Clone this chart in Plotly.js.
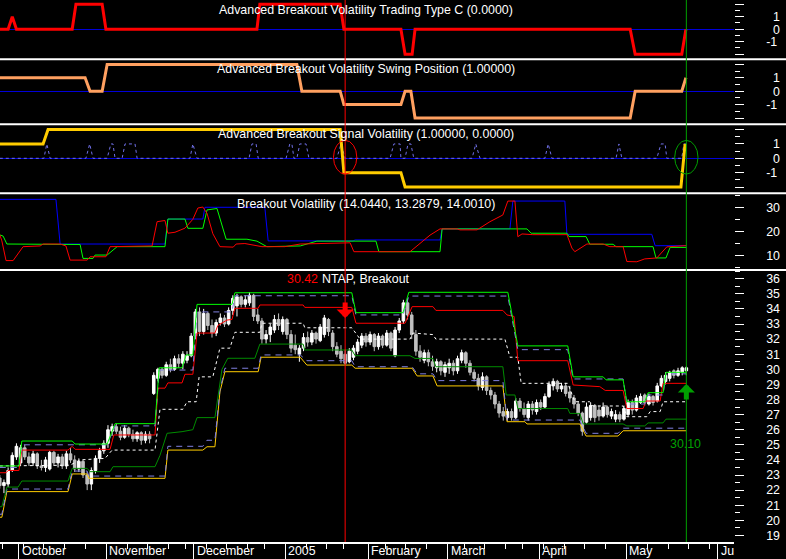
<!DOCTYPE html>
<html><head><meta charset="utf-8">
<script src="https://cdn.plot.ly/plotly-3.0.1.min.js"></script>
<style>html,body{margin:0;padding:0;background:#000;overflow:hidden}#chart{width:786px;height:559px}</style>
</head><body><div id="chart"></div>
<script>
// ---------- price bars (trading-day index starts at -5 = Sep 24, 2004; 0 = Oct 1) ----------
const firstBarIdx = -5;
const opens = [
22.8,22.3,22.4,23.3,24.2,23.8,24.8,24.2,23.8,24.4,
23.6,23.5,23.4,24.5,23.8,24.2,23.6,24.4,24.0,23.4,
23.9,23.0,22.4,23.3,24.1,24.6,25.1,25.9,26.2,25.9,
25.5,26.1,25.7,25.4,25.8,25.3,25.7,28.4,29.4,30.0,
29.6,30.3,30.0,30.7,30.4,30.6,30.9,32.2,33.8,32.5,
33.7,32.9,32.4,33.1,33.4,33.0,33.9,34.2,34.8,34.3,
34.4,34.9,33.6,33.2,32.0,32.3,32.6,33.3,32.5,33.3,
32.3,31.6,31.0,31.4,32.1,31.8,32.4,31.9,32.3,33.3,
32.4,31.5,31.2,31.0,30.5,30.8,31.2,31.6,32.2,31.8,
32.3,31.5,32.2,31.6,32.4,30.9,32.6,33.2,34.4,33.6,
32.3,31.2,30.6,31.1,30.5,30.1,30.5,29.8,30.1,30.4,
29.9,30.6,31.1,30.4,29.8,29.4,28.8,29.5,28.6,28.3,
27.7,27.2,26.8,27.2,26.8,27.9,27.4,26.8,27.7,27.2,
27.8,27.5,28.2,28.9,29.2,28.7,28.9,28.5,28.1,27.7,
27.1,26.5,26.8,27.6,27.3,26.9,27.5,26.9,26.7,27.0,
26.7,27.0,27.8,27.3,27.8,28.3,27.7,28.2,27.9,28.9,
29.2,29.4,29.9,29.6,29.8,29.9];
const highs = [
23.0,22.7,23.5,24.5,25.1,25.0,25.0,24.5,24.6,24.5,
24.0,24.2,24.6,24.6,24.4,24.4,24.6,24.8,24.3,24.1,
24.0,23.2,23.5,24.3,24.8,25.3,26.3,26.4,26.4,26.2,
26.3,26.2,26.0,25.9,25.9,25.9,25.9,29.8,30.1,30.1,
30.5,30.7,30.9,31.0,31.2,31.2,32.4,34.0,34.1,34.0,
33.8,33.3,33.3,33.7,33.6,34.1,34.9,35.0,34.9,34.9,
35.1,35.0,34.0,33.4,32.6,33.0,33.6,33.7,33.5,33.4,
32.6,32.3,31.6,32.4,32.5,32.6,32.5,33.0,33.6,33.4,
32.6,31.8,31.6,31.3,31.4,31.6,32.0,32.4,32.4,32.5,
32.4,32.4,32.3,32.6,32.5,32.8,33.4,34.6,34.7,33.8,
32.6,31.6,31.3,31.3,30.9,30.7,30.6,30.5,30.7,30.6,
30.9,31.3,31.2,30.6,30.0,29.7,29.8,29.6,28.8,28.5,
27.9,27.5,27.4,27.4,28.1,28.1,27.8,27.9,27.9,28.0,
28.0,28.4,29.2,29.4,29.3,29.1,29.1,28.9,28.3,27.9,
27.2,27.8,27.8,27.7,27.6,27.8,27.6,27.4,27.3,27.2,
27.6,28.0,28.0,28.3,28.4,28.4,28.4,28.3,29.1,29.6,
29.8,29.9,30.0,30.1,30.2,30.2];
const lows = [
22.1,21.8,22.2,23.2,24.0,23.6,24.0,23.6,23.6,23.4,
23.3,23.2,23.3,23.6,23.5,23.4,23.4,23.8,23.2,23.2,
22.8,22.0,22.0,23.1,23.8,24.4,24.8,25.6,25.7,25.3,
25.4,25.5,25.2,25.2,25.0,25.1,25.1,28.3,29.2,29.4,
29.5,29.8,29.9,30.1,30.0,30.4,30.8,32.0,32.2,32.3,
32.6,32.1,32.2,32.9,32.8,32.9,33.6,33.5,34.1,34.1,
34.2,33.2,33.0,31.7,31.7,31.8,32.4,32.6,32.3,32.0,
31.1,31.0,30.5,31.2,31.5,31.6,31.7,31.8,32.1,32.2,
31.2,30.8,30.4,30.3,30.4,30.6,31.0,31.4,31.5,31.6,
31.2,31.3,31.4,31.5,31.2,30.8,32.4,33.0,33.3,32.0,
30.9,30.5,30.4,30.2,29.9,29.8,29.6,29.5,29.7,29.6,
29.7,30.4,30.1,29.6,29.2,28.6,28.6,28.3,28.0,27.4,
26.8,26.6,26.6,26.6,26.7,27.2,26.8,26.6,27.0,27.0,
27.3,27.4,28.1,28.6,28.5,28.5,28.2,27.8,27.4,26.9,
25.6,26.4,26.6,26.5,26.6,26.8,26.8,26.7,26.5,26.5,
26.6,26.9,27.0,27.2,27.7,27.6,27.6,27.6,27.8,28.8,
29.0,29.2,29.4,29.5,29.6,29.6];
const closes = [
22.3,22.5,23.3,24.3,24.9,24.8,24.2,23.8,24.4,23.6,
23.5,24.0,24.5,23.8,24.2,23.6,24.4,24.0,23.4,23.9,
23.0,22.4,23.3,24.1,24.6,25.1,26.0,26.2,25.9,25.5,
26.1,25.7,25.4,25.8,25.3,25.7,25.4,29.6,30.0,29.6,
30.3,30.0,30.7,30.4,31.0,30.9,32.2,33.8,32.5,33.7,
32.9,32.4,33.1,33.4,33.0,33.9,34.7,34.8,34.3,34.6,
34.9,33.5,33.2,32.0,32.3,32.8,33.3,32.9,33.3,32.3,
31.4,31.3,31.4,32.1,31.8,32.4,32.0,32.8,33.4,32.5,
31.5,31.0,30.7,30.4,31.2,31.4,31.8,32.2,31.8,32.3,
31.5,32.2,31.6,32.4,31.4,32.6,33.2,34.4,33.6,32.3,
31.2,30.8,31.1,30.5,30.2,30.5,29.9,30.3,30.4,29.9,
30.7,31.1,30.4,29.8,29.4,28.9,29.5,28.6,28.3,27.7,
27.1,26.9,27.2,26.8,27.9,27.4,27.0,27.7,27.3,27.8,
27.5,28.2,29.0,29.2,28.7,28.9,28.4,28.1,27.7,27.1,
25.9,27.5,27.6,26.8,26.9,27.5,27.0,27.2,27.0,26.7,
27.4,27.8,27.3,28.1,28.2,27.8,28.2,27.8,28.9,29.4,
29.6,29.8,29.6,29.9,30.1,30.1];

// ---------- breakout channel lines (bar index, price) ----------
const hiBandX = [-5,-0.4,0.3,12.4,13.1,20.8,22.7,32.3,33.3,38.8,39.8,41.4,42.4,50.8,51.5,79.6,80.6,91.9,93.3,117.1,119.5,131.5,132.8,140,140.7,144.8,145.7,150,150.8,154.4,155.1,160];
const hiBandY = [23.6,23.6,25.25,25.25,25.05,25.05,26.4,26.4,30.1,30.1,30.95,30.95,34.3,34.3,35.07,35.07,33.75,33.75,35.1,35.1,31.55,31.55,29.5,29.5,29.3,29.3,27.85,27.85,28.45,28.45,29.8,29.8];
const hiBand2X = [-5,-0.4,0.3,20.8,22.7,32.3,33.3,41.4,42.4,50.8,51.5,79.6,80.6,91.9,93.3,117.1,119.5,131.5,132.8,144.8,145.7,150,150.8,154.4,155.1,160];
const hiBand2Y = [23.5,23.5,25.0,25.0,26.25,26.25,29.95,29.95,33.8,33.8,34.87,34.87,33.6,33.6,34.85,34.85,31.3,31.3,29.36,29.36,27.7,27.7,28.3,28.3,29.7,29.7];
const redBandX = [-5,-3.5,-3,-0.4,0.3,11.4,12.4,13.1,21.5,22.4,32.3,33,34.7,35.4,38.8,39.5,41.4,42.4,46.7,47.4,49.6,50.8,51.5,57.1,57.5,67.9,68.3,79.6,80.6,92.4,94.1,99.1,99.8,115.9,116.9,118.6,119.5,131.5,132.8,139.2,140.5,144.8,145.7,149.6,150.3,153.7,154.4,160];
const redBandY = [23.15,23.15,23.3,23.3,24.65,24.65,24.9,24.7,24.7,25.65,25.65,28.75,28.75,29.1,29.1,29.67,29.67,32.4,32.4,32.9,33.26,33.3,34.04,34.04,34.26,34.26,34.1,34.1,33.05,33.05,34.15,34.15,33.9,33.9,33.6,33.5,30.57,30.57,28.96,28.85,28.6,28.6,27.4,27.4,27.9,27.9,29.07,29.07];
const midX = [-5,-0.4,0.3,11.9,14.3,20.3,22,32.3,33.5,39,40,42.2,42.9,46.2,47.9,50.3,51.5,57.5,58,67.9,68.3,79.6,81.6,93.6,94.3,99.1,99.8,116.4,117.6,119.5,120.3,131.5,133.2,136.8,137.6,144.8,145.7,150.5,151.3,153.7,154.4,160];
const midY = [23.6,23.6,23.65,23.65,24.0,24.1,24.65,24.65,27.35,27.35,27.85,27.85,29.5,29.5,31.4,31.4,32.45,32.45,33.05,33.05,32.75,32.75,32.0,32.0,32.4,32.3,32.0,32.0,30.8,30.8,29.07,29.07,27.85,27.85,27.57,27.57,26.86,26.86,27.2,27.2,27.85,27.85];
const loMidX = [-5,-4.5,-3.3,-0.6,0.3,11.4,12.4,16,16.7,21.5,22.2,32.3,33.5,35.2,38.8,41.4,42.4,46.7,48.4,49.8,56.3,57.5,67.9,68.3,79.6,80.4,93.6,94.8,99.1,99.8,115.9,116.7,118.8,119.5,131.5,132,134.4,135.2,144.8,145.7,150,150.8,154.4,155.1,160];
const loMidY = [20.9,20.9,22.2,22.2,22.6,22.6,23.44,23.44,23.22,23.22,23.55,23.55,24.3,25.76,25.87,26.0,26.8,26.8,30.0,30.73,30.73,31.67,31.67,31.28,31.28,30.9,30.9,30.72,30.72,30.17,30.17,28.3,28.3,27.4,27.4,27.08,27.08,26.38,26.38,26.25,26.25,26.45,26.45,26.7,26.7];
const loBand2X = [-5,-4.5,-3.3,11.4,12.4,16,16.4,34.7,35.4,43.8,44.8,46.7,47.9,49.1,57.1,57.8,67.2,68.8,79.6,80.4,94.1,95.3,99.1,100.1,115.9,116.9,134.4,135.9,143.6,144.8,160];
const loBand2Y = [20.4,20.4,22.07,22.07,23.26,23.26,22.93,22.93,24.9,24.9,25.3,25.3,28.6,30.07,30.07,30.95,30.95,30.57,30.57,30.17,30.17,29.7,29.7,29.25,29.25,26.64,26.64,25.76,25.76,26.1,26.1];
const loBandX = [-5,-4.5,-3.3,11.4,12.4,16,16.4,34.7,35.4,43.8,44.8,46.7,47.9,49.1,57.1,57.8,67.2,68.8,79.6,80.4,94.1,95.3,99.1,100.1,115.9,116.9,121.2,121.7,134.4,135.9,143.6,144.8,160];
const loBandY = [20.2,20.2,21.9,21.9,23.07,23.07,22.78,22.78,24.65,24.65,24.87,24.87,28.5,29.84,29.84,30.8,30.8,30.28,30.28,30.07,30.07,29.56,29.56,28.9,28.9,26.53,26.53,26.38,26.38,25.58,25.58,25.93,25.93];

// ---------- Breakout Volatility panel ----------
const volRedX = [-5,-4.5,-3.5,-1.8,0.6,4.7,5.4,9.5,10.9,11.9,16,16.7,20.5,21.5,31.6,32.8,34.7,35.4,37.1,39.5,41.4,42.6,43.8,44.8,46.2,47.9,51.1,51.8,53.9,58,63.5,67.2,79.2,80.1,93.6,98.4,100.8,104.9,105.6,109.7,112.8,115.9,117.1,118.8,119.5,120.5,123.1,131.3,132.5,133.2,136.1,140,141.6,144.8,145.7,148.1,150,152.9,155.3,160];
const volRedY = [18.5,16,7.8,7.8,13.6,13.9,14.7,14.7,13.9,8.0,8.0,9.4,9.4,13.6,13.9,24.0,24.5,19.2,19.6,21.3,25,29.7,30.1,27.5,19,13.6,13.4,14.7,14.9,13.6,13.6,14.7,15.2,11.5,11.5,18.4,21.0,21.0,20.6,20.6,24,26.8,32.6,32.6,17.75,18.9,18.6,18.6,13.0,11.5,14.7,14.7,13.6,13.6,7.4,7.3,8.5,8.9,13.5,14.04];
const volGreenX = [-5,-4.2,-3.3,9.5,14.3,15,17.4,17.9,20.8,23.2,34.7,35.4,39.5,40.2,43.8,44.8,47.2,49.4,54.4,56.8,59.2,67.2,71.2,85.4,86.1,100.8,101.3,121.7,122.7,131.3,131.8,135.9,136.8,142.4,143.1,152,152.7,155.1,156.1,160];
const volGreenY = [18.5,18.0,14.7,14.7,14.5,8.7,8.7,10.1,10.1,13.6,13.6,25.1,25.1,21.25,21.25,28.9,29.5,16.7,16.7,15.9,13.6,13.9,15.9,15.9,11.5,11.5,21.0,21.0,19.2,19.2,17.8,17.8,14.6,14.6,13.6,13.6,8.9,8.9,13.29,13.29];
const volBlueX = [-5,8.5,9.5,34.7,35.4,43.8,44.3,58.7,59.5,79.9,80.4,100.8,101.3,117.6,118.3,130.8,131.3,151.7,152.5,160];
const volBlueY = [33.3,33.3,14.7,14.7,25.1,25.1,30.0,30.0,16.0,16.0,16.4,16.4,21.0,21.0,32.6,32.6,18.75,18.75,14.0,14.0];

// ---------- indicator panels (values -2..2) ----------
const typeCX = [-5,-3,-2,-1,12.4,13.3,19.6,20.5,56.8,57.5,76.8,77.7,91.4,92.4,94.1,94.8,146.5,147.7,158.9,159.9];
const typeCY = [0,0,1,0,0,2,2,0,0,2,2,0,0,-2,-2,0,0,-2,-2,0];
const swingX = [-5,15.5,16.7,19.6,20.8,66.4,67.6,76.8,77.7,91.4,92.4,93.8,94.8,146.5,147.7,158.9,159.9];
const swingY = [1,1,0,0,2,2,0,0,-1,-1,0,0,-2,-2,0,0,1];
const signalX = [-5,5.4,6.6,76.8,77.7,91.4,92.4,158.7,159.7];
const signalY = [1,1,2,2,-1,-1,-2,-2,1];
const sigDotX = [-5,5.6,6.3,7.1,15.7,16.6,17.4,20.8,21.7,22.2,22.7,24.4,25.1,27.5,28,40.7,41.4,42.4,54.9,55.6,56.6,57.1,63.8,64.7,65.2,65.7,66.4,67.1,68.6,69.3,76,77,78,88.8,89.7,91.2,91.4,92.4,93.1,93.8,94.5,108.5,109.4,110.4,126,126.8,127.7,143.1,143.8,144.5,152.9,153.9,154.9,155.3,158.9,159.4,160];
const sigDotY = [0,0,1,0,0,1,0,0,1,1,0,0,1,1,0,0,1,0,0,1,1,0,0,1,1,0,0,1,1,0,0,1,0,0,1,1,0,0,1,1,0,0,1,0,0,1,0,0,1,0,0,1,1,0,0,1,1];

// ---------- signals ----------
const sigIdx = [78, 160];
const sigPrice = [30.42, 30.10];
const sigArrowTip = [33.4, 29.03];
const sigLabelY = [35.95, 25.05];

// ---------- calendar ----------
const monthStarts = [0, 21, 42, 64, 84, 103, 125, 146, 168];
const monthLabels = ['October','November','December','2005','February','March','April','May','Ju'];
const weekStarts = [-4,1,6,11,16,26,31,36,40,45,50,55,59,69,74,78,88,93,98,107,112,117,121,126,131,136,141,151,156,161,166];

// ---------- titles ----------
const panelTitles = [
  'Advanced Breakout Volatility Trading Type C (0.0000)',
  'Advanced Breakout Volatility Swing Position (1.00000)',
  'Advanced Breakout Signal Volatility (1.00000, 0.0000)',
  'Breakout Volatility (14.0440, 13.2879, 14.0010)',
  'NTAP, Breakout'
];

// =================== layout geometry ===================
const FONT = 'Liberation Sans, Arial, sans-serif';
const FS = 12.4;
const W = 786, H = 559;
const py = px => 1 - px / H;          // pixel row -> paper y
const sepRows = [59.3, 124.3, 193.3, 270];
const axisRow = 542;
const xDomEnd = 733.7 / W;

const barX = opens.map((_, k) => k + firstBarIdx);

const traces = [];
traces.push({type:'candlestick', x:barX, open:opens, high:highs, low:lows, close:closes,
  xaxis:'x', yaxis:'y', whiskerwidth:0, hoverinfo:'skip',
  increasing:{line:{color:'#ffffff', width:1}, fillcolor:'#ffffff'},
  decreasing:{line:{color:'#c0c0c0', width:1}, fillcolor:'#c0c0c0'}});
function ln(x, y, yaxis, color, width, dash){
  traces.push({type:'scatter', mode:'lines', x:x, y:y, xaxis:'x', yaxis:yaxis, hoverinfo:'skip',
    line:{color:color, width:width, dash:dash||'solid'}});
}
ln(loBandX, loBandY, 'y', '#ffcc00', 1);
ln(loBand2X, loBand2Y, 'y', '#8080e0', 1, '6px,5px');
ln(loMidX, loMidY, 'y', '#008c00', 1);
ln(midX, midY, 'y', '#ffffff', 1, '3px,3px');
ln(redBandX, redBandY, 'y', '#ff0000', 1);
ln(hiBand2X, hiBand2Y, 'y', '#8080e0', 1, '6px,5px');
ln(hiBandX, hiBandY, 'y', '#00ff00', 1);

ln(volBlueX, volBlueY, 'y2', '#0000ff', 1);
ln(volGreenX, volGreenY, 'y2', '#00ff00', 1);
ln(volRedX, volRedY, 'y2', '#ff0000', 1);

ln(sigDotX, sigDotY, 'y3', '#7070e8', 1, '3px,3px');
ln(signalX, signalY, 'y3', '#ffcc00', 3);
ln(swingX, swingY, 'y4', '#ffa060', 3);
ln(typeCX, typeCY, 'y5', '#ff0000', 3);

const tickFont = {family:FONT, size:FS, color:'#ffffff'};
function yAxis(top, bottom, range, extra){
  return Object.assign({
    domain:[py(bottom), py(top)], range:range, autorange:false, anchor:'x', side:'right',
    showgrid:false, showline:false, zeroline:false, fixedrange:true,
    ticks:'outside', ticklen:9, tickwidth:1, tickcolor:'#ffffff', tickfont:tickFont,
    ticklabelstandoff:20
  }, extra);
}
const smallTicks = {tickmode:'array', tickvals:[-2,-1,0,1,2], ticktext:['','-1','\u20070','\u20071',''],
  minor:{tickmode:'array', tickvals:[-1.5,-0.5,0.5,1.5], ticks:'outside', ticklen:5, tickcolor:'#ffffff', showgrid:false},
  zeroline:true, zerolinecolor:'#0000d8', zerolinewidth:1};

const layout = {
  width:W, height:H, margin:{l:0, r:0, t:0, b:0, pad:0},
  paper_bgcolor:'#000000', plot_bgcolor:'#000000', showlegend:false, boxgap:0.12,
  font:{family:FONT, size:FS, color:'#ffffff'},
  xaxis:{domain:[0, xDomEnd], range:[-4.95, 171.38], autorange:false, anchor:'y', fixedrange:true,
    showgrid:false, zeroline:false, showline:true, linecolor:'#ffffff', linewidth:2,
    tickmode:'array', tickvals:monthStarts.map(i => i - 0.4), showticklabels:false,
    ticks:'outside', ticklen:17, tickwidth:1, tickcolor:'#ffffff',
    minor:{tickmode:'array', tickvals:weekStarts.map(i => i - 0.4), ticks:'outside', ticklen:5, tickcolor:'#ffffff', showgrid:false},
    rangeslider:{visible:false}},
  yaxis:yAxis(270, axisRow, [18.563, 36.576], {tickmode:'linear', tick0:0, dtick:1,
    minor:{dtick:0.5, tick0:0, ticks:'outside', ticklen:5, tickcolor:'#ffffff', showgrid:false}}),
  yaxis2:yAxis(193.3, 270, [3.875, 35.83], {tickmode:'array', tickvals:[10,20,30],
    minor:{tickmode:'array', tickvals:[5,15,25,35], ticks:'outside', ticklen:5, tickcolor:'#ffffff', showgrid:false}}),
  yaxis3:yAxis(124.3, 193.3, [-2.439, 2.369], smallTicks),
  yaxis4:yAxis(59.3, 124.3, [-2.47, 2.38], smallTicks),
  yaxis5:yAxis(0, 59.3, [-2.408, 2.336], smallTicks),
  shapes:[], annotations:[]
};

sepRows.forEach(r => layout.shapes.push({type:'line', xref:'paper', yref:'paper', x0:0, x1:1, y0:py(r), y1:py(r),
  line:{color:'#ffffff', width:2}}));
const sigColors = ['#ff0000', '#00a000'];
sigIdx.forEach((s, k) => {
  layout.shapes.push({type:'line', xref:'x', yref:'paper', x0:s, x1:s, y0:py(axisRow), y1:1,
    line:{color:sigColors[k], width:1}});
  layout.shapes.push({type:'circle', xref:'x', yref:'y3', x0:s - 2.8, x1:s + 2.8, y0:-1.1, y1:1.25,
    line:{color:sigColors[k], width:1}});
  layout.annotations.push({xref:'x', yref:'y', x:s, y:sigArrowTip[k], ax:0, ay:(k === 0 ? -17 : 17),
    showarrow:true, arrowhead:1, arrowwidth:5, arrowsize:0.57, arrowcolor:sigColors[k], text:''});
});

const titleRows = [10.5, 69.5, 134.5, 203.5, 279];
panelTitles.forEach((t, k) => layout.annotations.push({xref:'paper', yref:'paper', x:366/W, y:py(titleRows[k]),
  xanchor:'center', yanchor:'middle', text:t, showarrow:false, font:{family:FONT, size:FS, color:'#ffffff'}}));

// red signal price: placed just left of the price-panel title so the two texts do not collide
layout.annotations.push({xref:'x', yref:'paper', x:sigIdx[0], xshift:-25, y:py(279), xanchor:'right', yanchor:'middle',
  text:sigPrice[0].toFixed(2), showarrow:false, font:{family:FONT, size:FS, color:'#ff0000'}});
layout.annotations.push({xref:'x', yref:'y', x:sigIdx[1], xshift:-1, y:sigLabelY[1], xanchor:'center', yanchor:'middle',
  text:sigPrice[1].toFixed(2), showarrow:false, font:{family:FONT, size:FS, color:'#00a000'}});

monthStarts.forEach((m, k) => layout.annotations.push({xref:'x', yref:'paper', x:m - 0.4, xshift:1, y:py(axisRow),
  xanchor:'left', yanchor:'top', text:monthLabels[k], showarrow:false, font:{family:FONT, size:FS, color:'#ffffff'}}));

Plotly.newPlot('chart', traces, layout, {displayModeBar:false, staticPlot:true});
</script></body></html>
